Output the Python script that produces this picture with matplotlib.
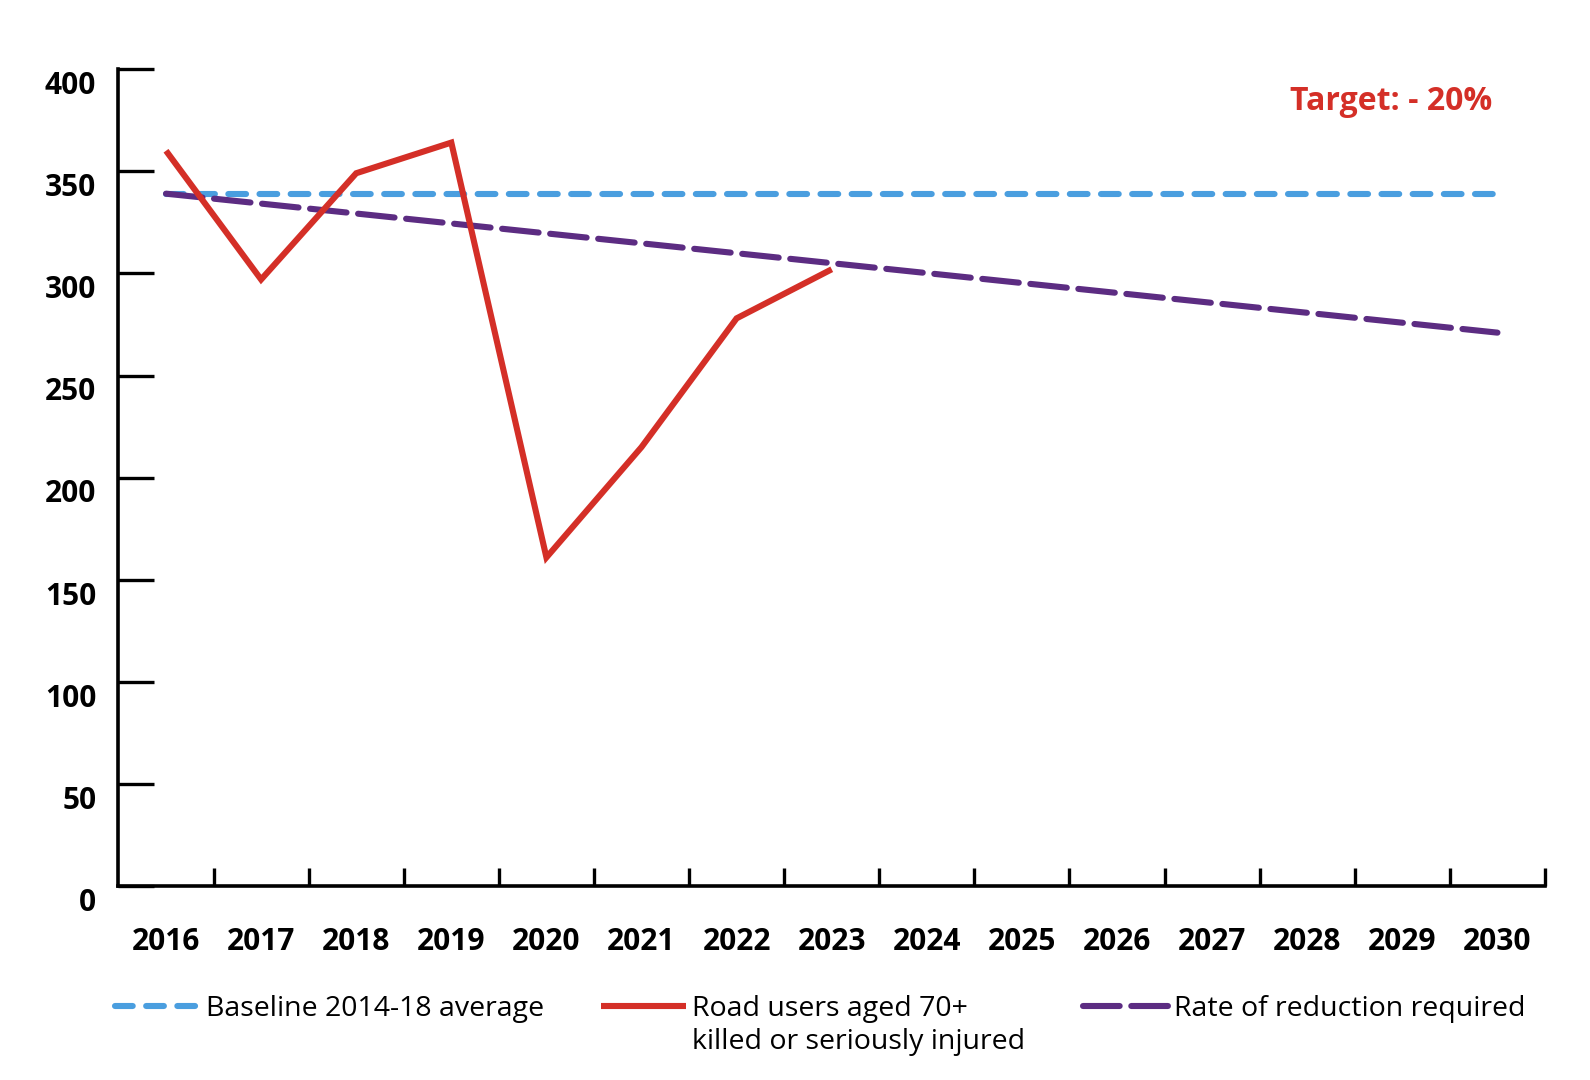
import matplotlib
matplotlib.use("Agg")
import matplotlib.pyplot as plt
import matplotlib.transforms as mtransforms

years = [str(y) for y in range(2016, 2031)]
ksi_years = ["2016", "2017", "2018", "2019", "2020", "2021", "2022", "2023"]
ksi_values = [360, 297, 349, 364, 161, 215, 278, 302]
baseline_years = ["2016", "2030"]
baseline_values = [339, 339]
reduction_years = ["2016", "2030"]
reduction_values = [339, 271]
y_ticks = [0, 50, 100, 150, 200, 250, 300, 350, 400]

RED = "#d42f27"
BLUE = "#4a9edf"
PURPLE = "#5c2c82"

plt.rcParams['font.family'] = ['Open Sans', 'DejaVu Sans']

fig = plt.figure(figsize=(15.9, 10.8), dpi=100)
ax = fig.add_axes([0.0745, 0.1792, 0.9717 - 0.0745, 0.9361 - 0.1792])

idx = {y: i for i, y in enumerate(years)}

lw = 4.4
ax.plot([idx[y] for y in baseline_years], baseline_values, color=BLUE, lw=lw,
        dashes=(2.9, 2.2), dash_capstyle='round', label="Baseline 2014-18 average", zorder=3)
ax.plot([idx[y] for y in reduction_years], reduction_values, color=PURPLE, lw=lw,
        dashes=(6.0, 1.9), dash_capstyle='round', label="Rate of reduction required", zorder=4)
ax.plot([idx[y] for y in ksi_years], ksi_values, color=RED, lw=lw,
        solid_joinstyle='miter', solid_capstyle='butt',
        label="Road users aged 70+", zorder=5)

ax.set_xlim(-0.5, 14.5)
ax.set_ylim(0, 400)

for s in ['top', 'right']:
    ax.spines[s].set_visible(False)
for s in ['left', 'bottom']:
    ax.spines[s].set_linewidth(2.6)
    ax.spines[s].set_capstyle('projecting')

ax.set_yticks(y_ticks)
ax.set_yticklabels([str(v) for v in y_ticks])
ax.tick_params(axis='y', direction='in', length=25.6, width=2.4, pad=16,
               labelsize=21.5)
for lab in ax.get_yticklabels():
    lab.set_fontweight('bold')
    lab.set_transform(lab.get_transform() + mtransforms.ScaledTranslation(0, -13.2 / 100, fig.dpi_scale_trans))

ax.set_xticks(range(len(years)))
ax.set_xticklabels(years)
ax.set_xticks([i + 0.5 for i in range(len(years))], minor=True)
ax.tick_params(axis='x', which='major', length=0, pad=29, labelsize=21.5)
ax.tick_params(axis='x', which='minor', direction='in', length=13.2, width=2.4)
for lab in ax.get_xticklabels():
    lab.set_fontweight('bold')

ax.text(13.95, 384, "Target: - 20%", color=RED, fontsize=23, fontweight='bold',
        ha='right', va='center')

handles, labels = ax.get_legend_handles_labels()
hmap = dict(zip(labels, handles))
LEG_FS = 20.5
positions = [
    ("Baseline 2014-18 average", 114.5 / 1590),
    ("Road users aged 70+", 601 / 1590),
    ("Rate of reduction required", 1083 / 1590),
]
legs = {}
for lbl, xpos in positions:
    h = hmap[lbl]
    leg = fig.legend([h], [lbl], loc='center left', bbox_to_anchor=(xpos, 1 - 1009 / 1080),
                     frameon=False, fontsize=LEG_FS, handlelength=3.0, handletextpad=0.21,
                     borderpad=0, borderaxespad=0)
    legs[lbl] = leg

fig.canvas.draw()
renderer = fig.canvas.get_renderer()
red_text = legs["Road users aged 70+"].get_texts()[0]
bb = red_text.get_window_extent(renderer)
x0 = bb.x0 / fig.bbox.width
y_line = (bb.y0 + bb.y1) / 2 / fig.bbox.height - 33 / 1080
fig.text(x0, y_line, "killed or seriously injured", fontsize=LEG_FS,
         ha='left', va='center')

fig.savefig("out.png", dpi=100, facecolor='white')
